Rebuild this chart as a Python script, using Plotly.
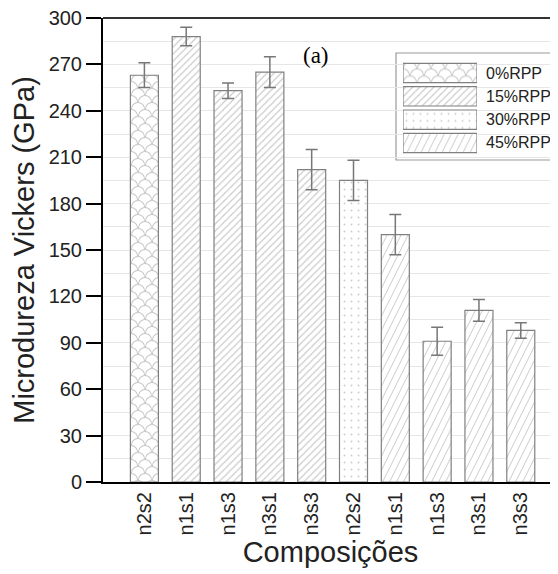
import plotly.graph_objects as go

# ---- data ----
categories = ["n2s2", "n1s1", "n1s3", "n3s1", "n3s3", "n2s2", "n1s1", "n1s3", "n3s1", "n3s3"]
groups = ["0%RPP", "15%RPP", "15%RPP", "15%RPP", "15%RPP", "30%RPP", "45%RPP", "45%RPP", "45%RPP", "45%RPP"]
hardness = [263, 288, 253, 265, 202, 195, 160, 91, 111, 98]
errors = [8, 6, 5, 10, 13, 13, 13, 9, 7, 5]
legend_groups = ["0%RPP", "15%RPP", "30%RPP", "45%RPP"]
yticks = [0, 30, 60, 90, 120, 150, 180, 210, 240, 270, 300]

FG = "#9a9a9a"
fish = ("M0,7 A7,7 0 0 1 14,7 L13,7 A6,6 0 0 0 1,7 Z "
        "M-7,14 A7,7 0 0 1 7,14 L6,14 A6,6 0 0 0 -6,14 Z "
        "M7,14 A7,7 0 0 1 21,14 L20,14 A6,6 0 0 0 8,14 Z")
steep = ("M0,14 L7,0 L8.1,0 L1.1,14 Z "
         "M7,14 L14,0 L15.1,0 L8.1,14 Z "
         "M-7,14 L0,0 L1.1,0 L-5.9,14 Z")


def make_pattern(g):
    if g == "0%RPP":
        try:
            return go.bar.marker.Pattern(path=fish, size=14, fgcolor="#8c8c8c", bgcolor="white")
        except Exception:
            return go.bar.marker.Pattern(shape="x", size=10, fgcolor=FG, bgcolor="white", solidity=0.1)
    if g == "15%RPP":
        return go.bar.marker.Pattern(shape="/", size=5, fgcolor="#959595", bgcolor="white", solidity=0.24)
    if g == "30%RPP":
        return go.bar.marker.Pattern(shape=".", size=7, fgcolor=FG, bgcolor="white", solidity=0.06)
    try:
        return go.bar.marker.Pattern(path=steep, size=14, fgcolor="#a0a0a0", bgcolor="white")
    except Exception:
        return go.bar.marker.Pattern(shape="/", size=8, fgcolor=FG, bgcolor="white", solidity=0.14)


fig = go.Figure()
xs = list(range(len(categories)))
for g in legend_groups:
    idx = [i for i, gg in enumerate(groups) if gg == g]
    fig.add_trace(go.Bar(
        x=[xs[i] for i in idx],
        y=[hardness[i] for i in idx],
        error_y=dict(type="data", array=[errors[i] for i in idx], color="#777777", thickness=1.5, width=6),
        marker=dict(color="white", pattern=make_pattern(g), line=dict(color="#808080", width=1.2)),
        width=0.67,
        showlegend=False,
        name=g,
    ))

# legend built as an inset of patterned swatches
for g in legend_groups:
    fig.add_trace(go.Bar(
        x=[1], y=[g], orientation="h", xaxis="x2", yaxis="y2", width=0.83,
        marker=dict(color="white", pattern=make_pattern(g), line=dict(color="#808080", width=1.2)),
        showlegend=False, hoverinfo="skip",
    ))

OFF = 8  # page body margin
W, H = 550, 566
L, R, T, B = 95, 0, 10, 92
pw, ph = W - L - R, H - T - B


def px(xw):
    return (xw - OFF - L) / pw


def py(yw):
    return (H - B - (yw - OFF)) / ph


fig.update_layout(
    width=W, height=H,
    margin=dict(l=L, r=R, t=T, b=B),
    paper_bgcolor="white", plot_bgcolor="white",
    font=dict(family="Liberation Sans, Arial, sans-serif", color="#222222", size=20),
    barmode="overlay",
    xaxis=dict(
        range=[-0.99, 9.89], tickmode="array", tickvals=xs, ticktext=categories,
        tickangle=-90, showgrid=False, showline=True, linecolor="black", linewidth=2,
        ticks="", tickfont=dict(size=20), zeroline=False,
        title=dict(text="Composições", font=dict(size=29), standoff=7),
    ),
    yaxis=dict(
        range=[0, 300], tickmode="array", tickvals=yticks, ticklabeloverflow="allow",
        showline=True, linecolor="black", linewidth=2, ticks="outside", ticklen=15, tickwidth=2,
        tickcolor="black", showgrid=True, gridcolor="#e6e6e6", gridwidth=1, zeroline=False,
        minor=dict(tickvals=[15 + 30 * k for k in range(10)], showgrid=True, gridcolor="#e6e6e6", ticks=""),
        tickfont=dict(size=20),
        title=dict(text="Microdureza Vickers (GPa)", font=dict(size=29), standoff=6),
    ),
    xaxis2=dict(domain=[px(403), px(477)], range=[0, 1], visible=False, fixedrange=True),
    yaxis2=dict(domain=[py(154.6), py(61.4)], range=[3.5, -0.5], visible=False,
                categoryorder="array", categoryarray=legend_groups, fixedrange=True, anchor="x2"),
)

fig.add_shape(type="rect", xref="paper", yref="paper", x0=px(396), x1=px(557), y0=py(160), y1=py(53),
              line=dict(color="#999999", width=1.2), fillcolor="white", layer="between")
fig.add_shape(type="line", xref="paper", yref="paper", x0=0, x1=1, y0=1, y1=1,
              line=dict(color="#333333", width=2))

for g in legend_groups:
    fig.add_annotation(x=px(484), xref="paper", y=g, yref="y2", text=g, showarrow=False,
                       xanchor="left", yanchor="middle", font=dict(size=16, color="#222222"))

fig.add_annotation(x=px(316), xref="paper", y=py(55), yref="paper", text="(a)", showarrow=False,
                   xanchor="center", yanchor="middle",
                   font=dict(family="Liberation Serif, Times New Roman, serif", size=23, color="black"))

fig.write_html("out.html")
